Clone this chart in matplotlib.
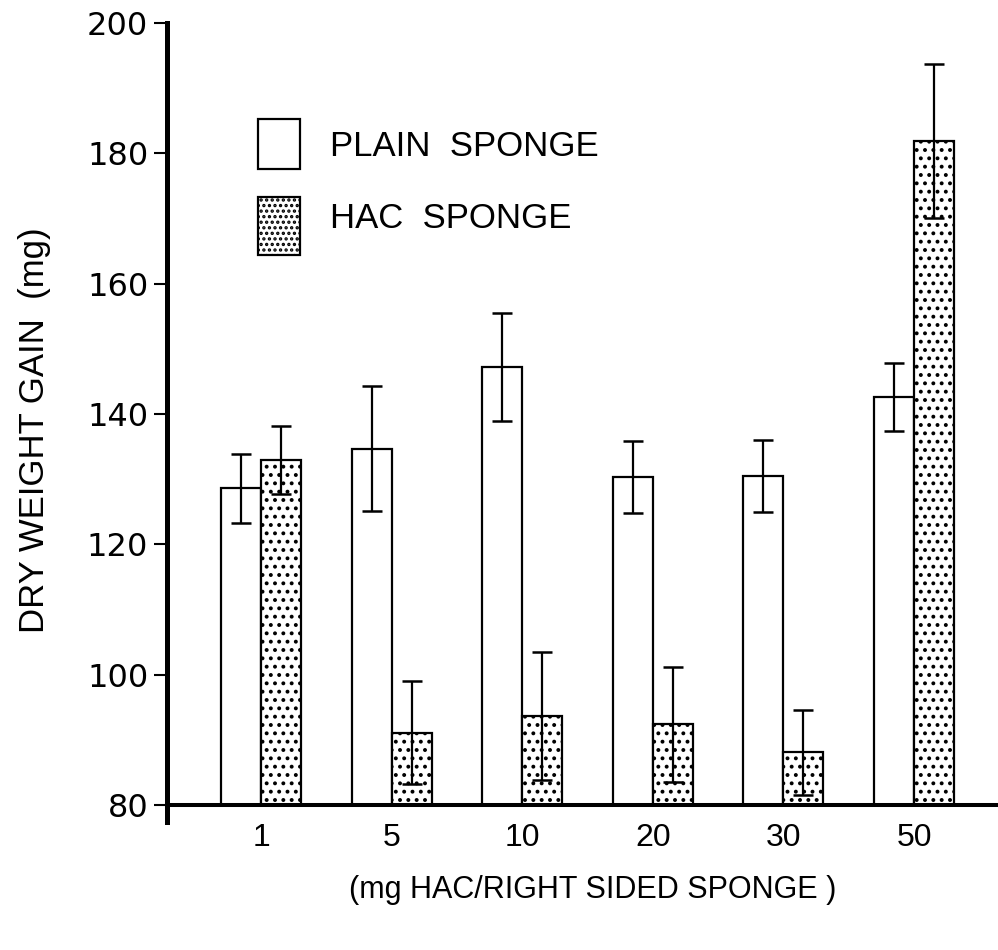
import matplotlib
matplotlib.use("Agg")
import matplotlib.pyplot as plt
from matplotlib.patches import Rectangle
import numpy as np

# values
doses = ["1", "5", "10", "20", "30", "50"]
plain = [128.6, 134.7, 147.2, 130.3, 130.5, 142.6]
plain_err = [5.3, 9.6, 8.3, 5.5, 5.5, 5.2]
hac = [133.0, 91.1, 93.7, 92.4, 88.1, 181.9]
hac_err = [5.2, 7.9, 9.8, 8.8, 6.5, 11.8]

sans = ["Liberation Sans", "DejaVu Sans"]
plt.rcParams["hatch.linewidth"] = 1.6

fig = plt.figure(figsize=(9.98, 9.5), dpi=100)
ax = fig.add_axes([167/998, 1-822/950, 1-167/998, (822-23)/950])

x = np.arange(len(doses))
w = 0.306

ax.bar(x - w/2, np.array(plain) - 80, w, bottom=80, color="white", edgecolor="black",
       linewidth=1.6, zorder=2)
ax.bar(x + w/2, np.array(hac) - 80, w, bottom=80, color="white", edgecolor="black",
       linewidth=1.6, hatch="..", zorder=2)

ax.errorbar(x - w/2, plain, yerr=plain_err, fmt="none", ecolor="black",
            elinewidth=1.6, capsize=7, capthick=1.8, zorder=3)
ax.errorbar(x + w/2, hac, yerr=hac_err, fmt="none", ecolor="black",
            elinewidth=1.6, capsize=7, capthick=1.8, zorder=3)

ax.set_xlim(-0.72, 5.643)
ax.set_ylim(77.4, 200)

ax.spines["top"].set_visible(False)
ax.spines["right"].set_visible(False)
ax.spines["left"].set_linewidth(3.6)
ax.spines["left"].set_bounds(77.4, 200)
ax.spines["bottom"].set_position(("data", 80))
ax.spines["bottom"].set_linewidth(2.9)

ax.set_yticks(range(80, 201, 20))
ax.set_yticklabels([str(v) for v in range(80, 201, 20)], fontsize=23,
                   family=["DejaVu Sans"])
ax.tick_params(axis="y", length=9.5, width=1.5, pad=4, direction="out")

ax.set_xticks(x)
ax.set_xticklabels(doses, fontsize=23, family=sans)
ax.tick_params(axis="x", length=0, pad=13)

ax.set_ylabel("DRY WEIGHT GAIN  (mg)", fontsize=25, family=sans)
ax.yaxis.set_label_coords(-0.140, 0.49)

fig.text(593/998, 1-890/950, "(mg HAC/RIGHT SIDED SPONGE )", fontsize=22,
         family=sans, ha="center", va="center")

# legend
fig.add_artist(Rectangle((258/998, 1-169/950), 42/998, 50/950, transform=fig.transFigure,
                         facecolor="white", edgecolor="black", linewidth=1.6))
fig.add_artist(Rectangle((258/998, 1-255/950), 42/998, 58/950, transform=fig.transFigure,
                         facecolor="white", edgecolor="black", linewidth=1.6, hatch="..."))
fig.text(330/998, 1-146/950, "PLAIN  SPONGE", fontsize=25, family=sans,
         ha="left", va="center")
fig.text(330/998, 1-218/950, "HAC  SPONGE", fontsize=25, family=sans,
         ha="left", va="center")

fig.savefig("out.png", dpi=100)
